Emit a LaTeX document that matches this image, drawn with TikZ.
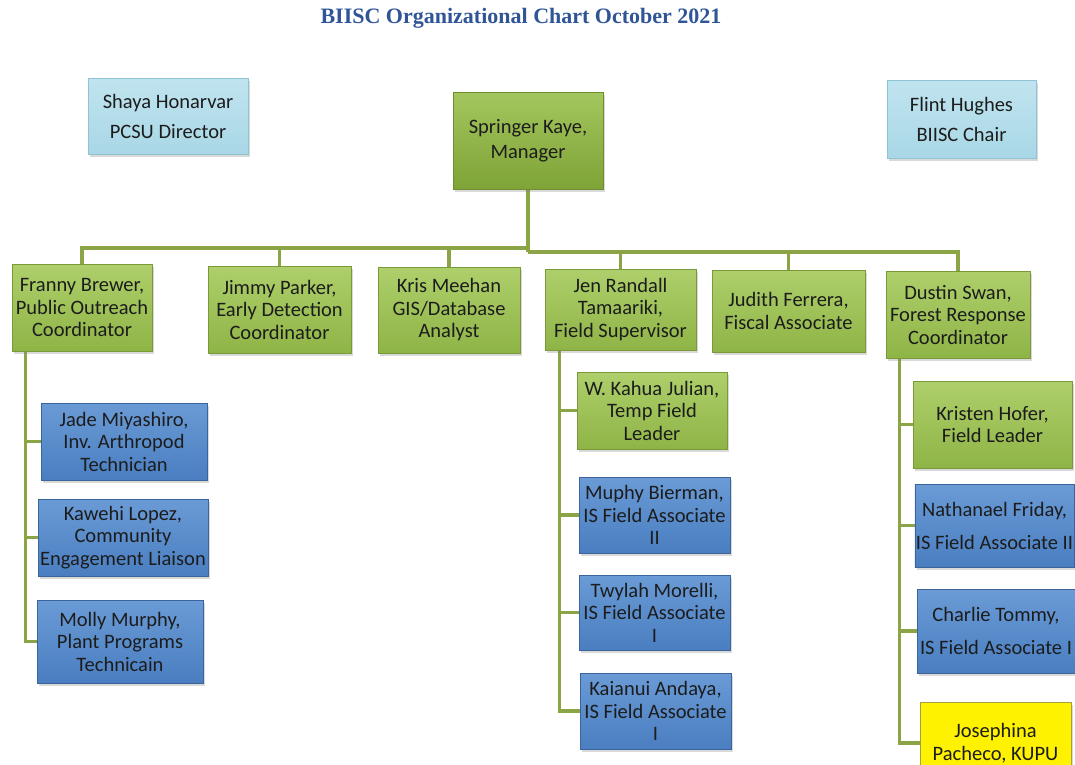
\documentclass[tikz,border=0pt]{standalone}
\usepackage{fontspec}
\setmainfont{Carlito}
\newfontfamily\titlefont{Liberation Serif}
\usetikzlibrary{shadows,backgrounds}

\definecolor{linkgreen}{HTML}{8BA446}
\definecolor{titleblue}{HTML}{2F5597}
\definecolor{greentop}{HTML}{AECF6B}
\definecolor{greenbot}{HTML}{8FB446}
\definecolor{greenline}{HTML}{7A9A3A}
\definecolor{mgrtop}{HTML}{A4C65E}
\definecolor{mgrbot}{HTML}{7EA336}
\definecolor{mgrline}{HTML}{6E8C30}
\definecolor{bluetop}{HTML}{6A9BD6}
\definecolor{bluebot}{HTML}{4A7EC0}
\definecolor{blueline}{HTML}{3B649A}
\definecolor{skytop}{HTML}{C0E4EF}
\definecolor{skybot}{HTML}{A9D7E6}
\definecolor{skyline}{HTML}{8FC4D6}
\definecolor{boxtext}{HTML}{1C1C1C}

\tikzset{
  box/.style={rectangle, draw, line width=0.8pt, align=center, inner sep=1pt,
    text=boxtext, font=\fontsize{20.5}{22.5}\selectfont,
    drop shadow={shadow xshift=2pt, shadow yshift=-2.5pt, opacity=0.3}},
  greenbox/.style={box, draw=greenline, top color=greentop, bottom color=greenbot},
  mgrbox/.style={box, draw=mgrline, top color=mgrtop, bottom color=mgrbot},
  bluebox/.style={box, draw=blueline, top color=bluetop, bottom color=bluebot},
  skybox/.style={box, draw=skyline, top color=skytop, bottom color=skybot},
  yellowbox/.style={box, draw=yellow!60!black, fill=yellow},
  link/.style={draw=linkgreen, line width=3.2pt}
}

\begin{document}
\begin{tikzpicture}[x=1pt, y=-1pt]
  \useasboundingbox (0,0) rectangle (1075,764);
  \clip (0,0) rectangle (1075,764);

  \node[font=\titlefont\bfseries\fontsize{22}{24}\selectfont, text=titleblue] (title) at (521,18) {BIISC Organizational Chart October 2021};

  % top row
  \node[skybox, minimum width=160, minimum height=76] (shaya) at (168,116) {Shaya Honarvar\\[7.5pt]PCSU Director};
  \node[mgrbox, minimum width=150, minimum height=97] (springer) at (528,140.5) {Springer Kaye,\\[2.5pt]Manager};
  \node[skybox, minimum width=149, minimum height=78] (flint) at (961.5,119) {Flint Hughes\\[7.5pt]BIISC Chair};

  % second row
  \node[greenbox, minimum width=140, minimum height=87] (franny) at (82,307.5) {Franny Brewer,\\Public Outreach\\Coordinator};
  \node[greenbox, minimum width=143, minimum height=87] (jimmy) at (279.5,309.5) {Jimmy Parker,\\Early Detection\\Coordinator};
  \node[greenbox, minimum width=142, minimum height=86] (kris) at (449,310) {Kris Meehan\\GIS/Database\\Analyst};
  \node[greenbox, minimum width=151, minimum height=81] (jen) at (620.5,309.5) {Jen Randall\\Tamaariki,\\Field Supervisor};
  \node[greenbox, minimum width=153, minimum height=82] (judith) at (788.5,311) {Judith Ferrera,\\Fiscal Associate};
  \node[greenbox, minimum width=144, minimum height=87] (dustin) at (958,314.5) {Dustin Swan,\\Forest Response\\Coordinator};

  % under Franny
  \node[bluebox, minimum width=166, minimum height=77] (jade) at (124,441.5) {Jade Miyashiro,\\Inv. Arthropod\\Technician};
  \node[bluebox, minimum width=170, minimum height=77] (kawehi) at (123,537.5) {Kawehi Lopez,\\Community\\Engagement Liaison};
  \node[bluebox, minimum width=166, minimum height=83] (molly) at (120,641.5) {Molly Murphy,\\Plant Programs\\Technicain};

  % under Jen
  \node[greenbox, minimum width=150, minimum height=77] (kahua) at (652,410.5) {W. Kahua Julian,\\Temp Field\\Leader};
  \node[bluebox, minimum width=151, minimum height=76] (muphy) at (654.5,515) {Muphy Bierman,\\IS Field Associate\\II};
  \node[bluebox, minimum width=151, minimum height=75] (twylah) at (654.5,612.5) {Twylah Morelli,\\IS Field Associate\\I};
  \node[bluebox, minimum width=151, minimum height=76] (kaianui) at (655.5,711) {Kaianui Andaya,\\IS Field Associate\\I};

  % under Dustin
  \node[greenbox, minimum width=159, minimum height=87] (kristen) at (992.5,424.5) {Kristen Hofer,\\Field Leader};
  \node[bluebox, minimum width=159, minimum height=83] (nathanael) at (994.5,525.5) {Nathanael Friday,\\[10.5pt]IS Field Associate II};
  \node[bluebox, minimum width=158, minimum height=84] (charlie) at (996,631) {Charlie Tommy,\\[10.5pt]IS Field Associate I};
  \node[yellowbox, minimum width=151, minimum height=82] (josephina) at (995.5,743) {Josephina\\Pacheco, KUPU};

  % connectors
  \begin{scope}[on background layer]
    \coordinate (busL) at (528,248);
    \coordinate (busR) at (528,252);
    \draw[link] (springer.south) -- (busR);
    \foreach \n in {franny,jimmy,kris}
      \draw[link] (busL) -| (\n.north);
    \foreach \n in {jen,judith,dustin}
      \draw[link] (busR) -| (\n.north);

    \coordinate (fspine) at ([xshift=14pt]franny.south west);
    \foreach \n in {jade,kawehi,molly}
      \draw[link] (fspine) |- (\n.west);
    \coordinate (jspine) at ([xshift=15pt]jen.south west);
    \foreach \n in {kahua,muphy,twylah,kaianui}
      \draw[link] (jspine) |- (\n.west);
    \coordinate (dspine) at ([xshift=14pt]dustin.south west);
    \foreach \n in {kristen,nathanael,charlie,josephina}
      \draw[link] (dspine) |- (\n.west);
  \end{scope}
\end{tikzpicture}
\end{document}
